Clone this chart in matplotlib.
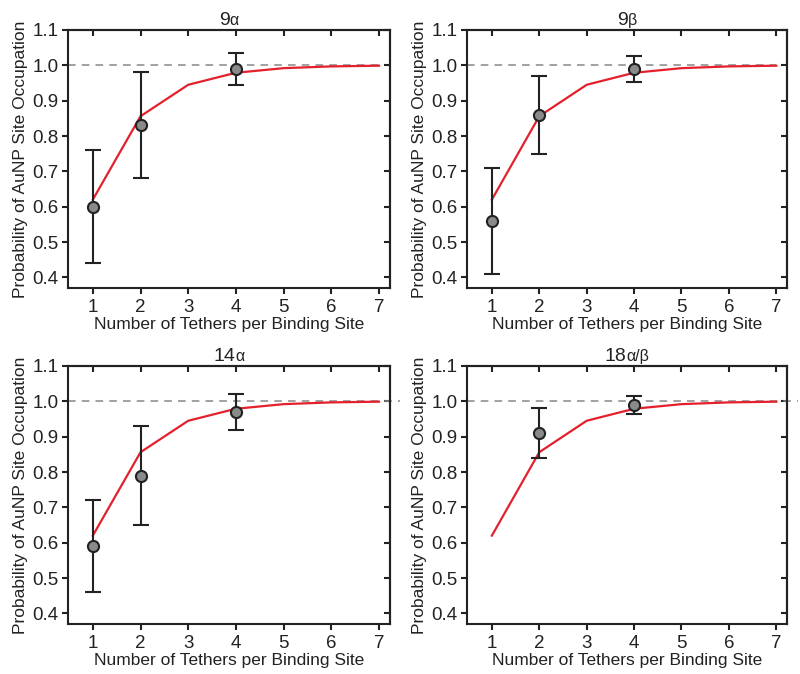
import matplotlib
matplotlib.use("Agg")
import matplotlib.pyplot as plt
from matplotlib.offsetbox import TextArea, HPacker, AnchoredOffsetbox

plt.rcParams['font.family'] = ['Liberation Sans', 'DejaVu Sans']

# Model curve
model_n = [1, 2, 3, 4, 5, 6, 7]
model_p = [0.620, 0.856, 0.945, 0.979, 0.992, 0.997, 0.999]

# Experimental data per panel
titles_main = ["9", "9", "14", "18"]
titles_sub = ["α", "β", "α", "α/β"]

x_9a = [1, 2, 4]
y_9a = [0.60, 0.83, 0.99]
e_9a = [0.16, 0.15, 0.045]

x_9b = [1, 2, 4]
y_9b = [0.56, 0.86, 0.99]
e_9b = [0.15, 0.11, 0.036]

x_14a = [1, 2, 4]
y_14a = [0.59, 0.79, 0.97]
e_14a = [0.13, 0.14, 0.05]

x_18ab = [2, 4]
y_18ab = [0.91, 0.99]
e_18ab = [0.07, 0.025]

datasets = [(x_9a, y_9a, e_9a), (x_9b, y_9b, e_9b),
            (x_14a, y_14a, e_14a), (x_18ab, y_18ab, e_18ab)]

xticks = [1, 2, 3, 4, 5, 6, 7]
yticks = [0.4, 0.5, 0.6, 0.7, 0.8, 0.9, 1.0, 1.1]
ytick_labels = ["0.4", "0.5", "0.6", "0.7", "0.8", "0.9", "1.0", "1.1"]

fig = plt.figure(figsize=(8, 6.74), dpi=100)
positions = [
    [0.085, 0.5727, 0.4025, 0.3828],
    [0.584, 0.5727, 0.400, 0.3828],
    [0.085, 0.0742, 0.4025, 0.3828],
    [0.584, 0.0742, 0.400, 0.3828],
]

for i, pos in enumerate(positions):
    ax = fig.add_axes(pos)
    xs, ys, es = datasets[i]
    ax.set_xlim(0.48, 7.23)
    ax.set_ylim(0.37, 1.1)
    # dashed reference line
    xend = 7.0 if i < 2 else 7.45
    ax.plot([0.48, xend], [1.0, 1.0], ls=(0, (5, 4)), color='#888888',
            lw=1.1, clip_on=False, zorder=1)
    ax.plot(model_n, model_p, color='#e3202c', lw=1.6, zorder=2)
    ax.errorbar(xs, ys, yerr=es, fmt='o', color='#222222', ecolor='#222222',
                elinewidth=1.5, capsize=6, capthick=1.5,
                markerfacecolor='#8a8a8a', markeredgecolor='#222222',
                markeredgewidth=1.5, markersize=8, zorder=3)
    ax.set_xticks(xticks)
    ax.set_yticks(yticks)
    ax.set_yticklabels(ytick_labels)
    ax.tick_params(axis='both', labelsize=13.5, width=1.5, length=4,
                   color='#222222', labelcolor='#222222')
    ax.tick_params(axis='x', direction='out', top=False, pad=4)
    ax.tick_params(axis='y', direction='out', pad=3)
    axt = ax.secondary_xaxis('top')
    axt.set_xticks(xticks)
    axt.tick_params(direction='in', length=4, width=1.5, labeltop=False,
                    color='#222222')
    axt.set_xticklabels([])
    axr = ax.secondary_yaxis('right')
    axr.set_yticks(yticks)
    axr.tick_params(direction='in', length=4, width=1.5, labelright=False,
                    color='#222222')
    axr.set_yticklabels([])
    for sp in ax.spines.values():
        sp.set_linewidth(1.5)
        sp.set_color('#222222')
    for sp in list(axt.spines.values()) + list(axr.spines.values()):
        sp.set_linewidth(1.5)
        sp.set_color('#222222')
    ax.set_xlabel("Number of Tethers per Binding Site", fontsize=12.5,
                  color='#222222', labelpad=0.5)
    ax.set_ylabel("Probability of AuNP Site Occupation", fontsize=12.5,
                  color='#222222', labelpad=3)
    # title with smaller Greek suffix
    t1 = TextArea(titles_main[i], textprops=dict(fontsize=14, color='#222222'))
    t2 = TextArea(titles_sub[i], textprops=dict(fontsize=11.5, color='#222222'))
    box = HPacker(children=[t1, t2], align='baseline', pad=0, sep=0)
    anch = AnchoredOffsetbox(loc='lower center', child=box, pad=0, frameon=False,
                             bbox_to_anchor=(0.5, 1.005),
                             bbox_transform=ax.transAxes, borderpad=0)
    ax.add_artist(anch)

fig.savefig("out.png", dpi=100)
